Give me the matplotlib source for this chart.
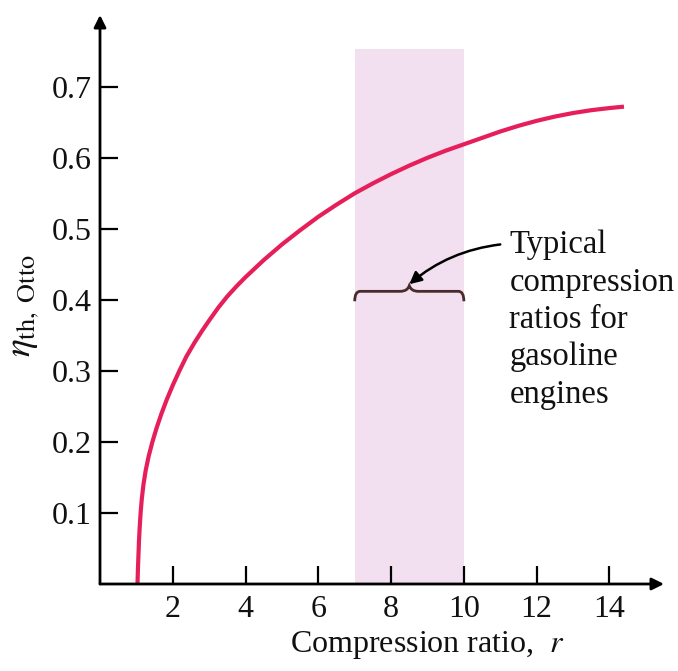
import matplotlib
matplotlib.use("Agg")
import matplotlib.pyplot as plt
from matplotlib.path import Path
from matplotlib.patches import PathPatch

# ---- data ----
compression_ratio = [1.030, 1.042, 1.056, 1.071, 1.091, 1.116, 1.149, 1.194, 1.256,
                     1.338, 1.440, 1.557, 1.690, 1.838, 2.002, 2.181, 2.372, 2.6,
                     2.8, 3.0, 3.25, 3.5, 3.75, 4.0, 4.5, 5.0, 5.5, 6.0, 6.5, 7.0,
                     7.5, 8.0, 8.5, 9.0, 9.5, 10.0, 10.5, 11.0, 11.5, 12.0, 12.5,
                     13.0, 13.5, 14.0, 14.4]
efficiency = [0.0, 0.02, 0.04, 0.06, 0.08, 0.10, 0.12, 0.14, 0.16,
              0.18, 0.20, 0.22, 0.24, 0.26, 0.28, 0.30, 0.32, 0.340,
              0.356, 0.371, 0.389, 0.405, 0.419, 0.432, 0.456, 0.478, 0.498,
              0.517, 0.534, 0.550, 0.564, 0.577, 0.589, 0.600, 0.610, 0.619,
              0.628, 0.637, 0.645, 0.652, 0.658, 0.663, 0.667, 0.670, 0.672]
band_range = [7, 10]          # typical gasoline-engine compression ratios
band_top = 0.753
x_ticks = [2, 4, 6, 8, 10, 12, 14]
y_ticks = [0.1, 0.2, 0.3, 0.4, 0.5, 0.6, 0.7]
note_text = "Typical\ncompression\nratios for\ngasoline\nengines"

plt.rcParams["font.family"] = ["Liberation Serif", "DejaVu Serif"]
plt.rcParams["mathtext.fontset"] = "stix"

W, H = 678, 671
fig = plt.figure(figsize=(W / 100, H / 100), dpi=100)
x0, x1 = 100, 664
y0, y1 = 584, 15
ax = fig.add_axes([x0 / W, 1 - y0 / H, (x1 - x0) / W, (y0 - y1) / H])
xmax, ymax = 15.5, 0.801
ax.set_xlim(0, xmax)
ax.set_ylim(0, ymax)

for s in ax.spines.values():
    s.set_visible(False)

# shaded band
ax.fill_between(band_range, [0, 0], [band_top, band_top], color="#F2E0F1", lw=0, zorder=1)

# efficiency curve
ax.plot(compression_ratio, efficiency, color="#E61E5A", lw=3.0, zorder=3,
        solid_capstyle="butt", solid_joinstyle="round")

# axes with arrows
ax.annotate("", xy=(1.0, 0), xytext=(0, 0), xycoords="axes fraction",
            arrowprops=dict(arrowstyle="-|>", lw=2.0, color="black",
                            mutation_scale=18, shrinkA=0, shrinkB=0), zorder=5)
ax.annotate("", xy=(0, 1.0), xytext=(0, 0), xycoords="axes fraction",
            arrowprops=dict(arrowstyle="-|>", lw=2.0, color="black",
                            mutation_scale=18, shrinkA=0, shrinkB=0), zorder=5)

ax.set_xticks(x_ticks)
ax.set_xticklabels([str(v) for v in x_ticks])
ax.set_yticks(y_ticks)
ax.set_yticklabels([f"{v:.1f}" for v in y_ticks])
ax.tick_params(axis="both", direction="in", length=13, width=1.6, labelsize=23,
               color="black", labelcolor="#111111")
ax.tick_params(axis="x", pad=8)
ax.tick_params(axis="y", pad=6)

# brace
b0, b1 = band_range
bm = (b0 + b1) / 2
by = 0.412
verts = [(b0, by - 0.014), (b0, by), (b0 + 0.15, by),
         (bm - 0.25, by), (bm - 0.05, by), (bm, by + 0.008),
         (bm + 0.05, by), (bm + 0.25, by),
         (b1 - 0.15, by), (b1, by), (b1, by - 0.014)]
codes = [Path.MOVETO, Path.CURVE3, Path.CURVE3,
         Path.LINETO, Path.CURVE3, Path.CURVE3,
         Path.CURVE3, Path.CURVE3,
         Path.LINETO, Path.CURVE3, Path.CURVE3]
ax.add_patch(PathPatch(Path(verts, codes), fill=False, lw=2.0, color="#4A2A2A", zorder=4))

# arrow from note to brace
ax.annotate("", xy=(bm, by + 0.01), xytext=(11.0, 0.478), xycoords="data",
            arrowprops=dict(arrowstyle="-|>", lw=1.8, color="black",
                            mutation_scale=18, shrinkA=0, shrinkB=0,
                            connectionstyle="arc3,rad=0.15"), zorder=5)

ax.text(11.25, 0.372, note_text, ha="left", va="center", fontsize=23.5,
        linespacing=1.29, color="#111111")

# axis labels
fig.text(427 / W, 1 - 645 / H, r"Compression ratio,  $\mathit{r}$", ha="center",
         va="center", fontsize=23, color="#111111")
fig.text(24 / W, 1 - 306 / H, r"$\eta_{\rm th,\ Otto}$", ha="center", va="center",
         fontsize=27, rotation=90, color="#111111")

fig.savefig("out.png", dpi=100)
